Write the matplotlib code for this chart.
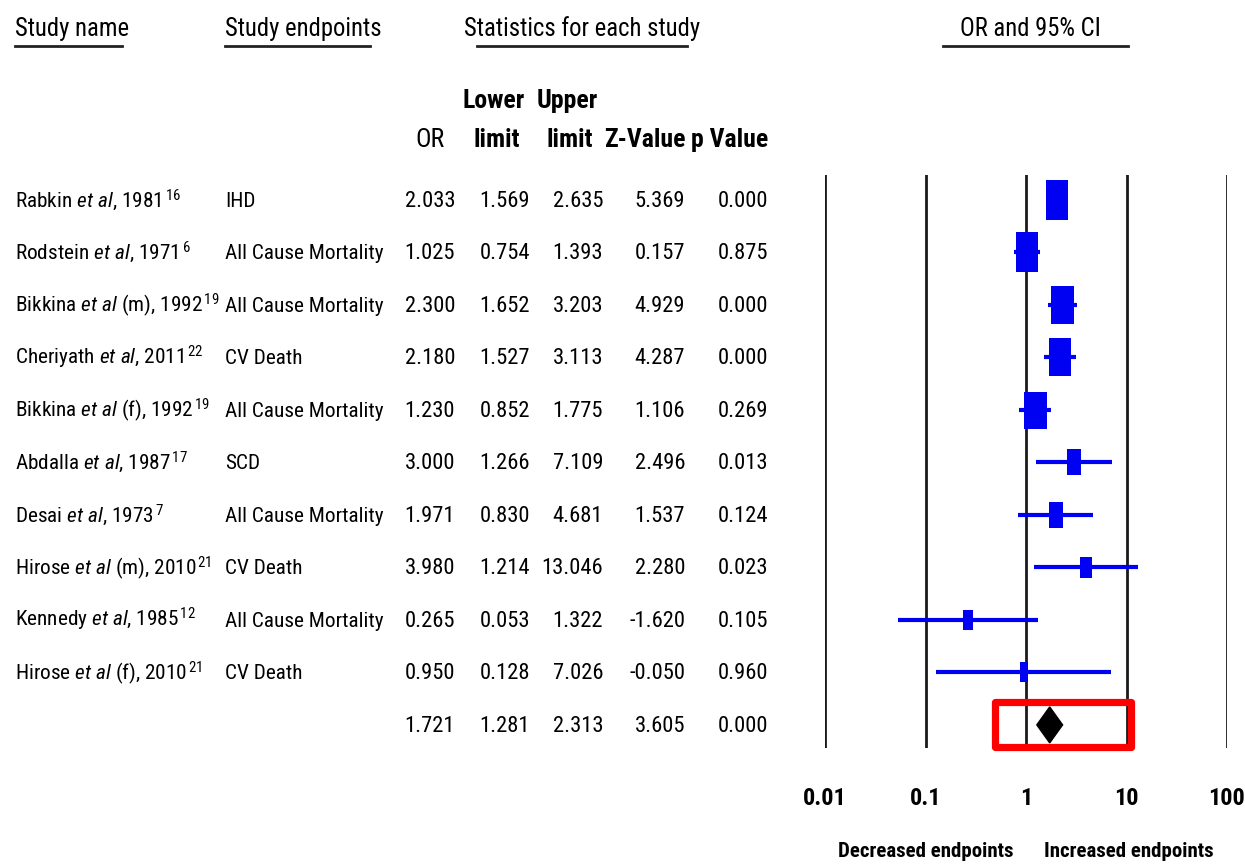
import matplotlib
matplotlib.use('Agg')
import matplotlib.pyplot as plt
from matplotlib import font_manager, transforms
from matplotlib.lines import Line2D
from matplotlib.patches import Polygon, Rectangle
from matplotlib.path import Path

# study rows, top to bottom
authors = ['Rabkin', 'Rodstein', 'Bikkina', 'Cheriyath', 'Bikkina',
           'Abdalla', 'Desai', 'Hirose', 'Kennedy', 'Hirose']
groups = ['', '', '(m)', '', '(f)', '', '', '(m)', '', '(f)']
years = [1981, 1971, 1992, 2011, 1992, 1987, 1973, 2010, 1985, 2010]
refs = [16, 6, 19, 22, 19, 17, 7, 21, 12, 21]
endpoints = ['IHD', 'All Cause Mortality', 'All Cause Mortality', 'CV Death',
             'All Cause Mortality', 'SCD', 'All Cause Mortality', 'CV Death',
             'All Cause Mortality', 'CV Death']
odds = [2.033, 1.025, 2.300, 2.180, 1.230, 3.000, 1.971, 3.980, 0.265, 0.950]
lower = [1.569, 0.754, 1.652, 1.527, 0.852, 1.266, 0.830, 1.214, 0.053, 0.128]
upper = [2.635, 1.393, 3.203, 3.113, 1.775, 7.109, 4.681, 13.046, 1.322, 7.026]
z_vals = [5.369, 0.157, 4.929, 4.287, 1.106, 2.496, 1.537, 2.280, -1.620, -0.050]
p_vals = [0.000, 0.875, 0.000, 0.000, 0.269, 0.013, 0.124, 0.023, 0.105, 0.960]

# pooled estimate
pooled_or = 1.721
pooled_lo = 1.281
pooled_hi = 2.313
pooled_z = 3.605
pooled_p = 0.000

ticks = [0.01, 0.1, 1, 10, 100]
tick_labels = ['0.01', '0.1', '1', '10', '100']

# box size in pixels (study weight)
box_w = [23, 22, 23, 22, 23, 15, 14, 12, 11, 9]
box_h = [40, 40, 38, 38, 37, 26, 27, 21, 20, 20]


def pick_font():
    """Prefer a narrow / condensed sans face, return (family, stretch)."""
    entries = font_manager.fontManager.ttflist
    names = {f.name for f in entries}
    for name in ['Liberation Sans Narrow', 'Arial Narrow', 'Roboto Condensed',
                 'Open Sans Condensed', 'Noto Sans Condensed',
                 'DejaVu Sans Condensed']:
        if name in names:
            return name, 'normal'
    for name in sorted(names):
        if 'Narrow' in name or 'Condensed' in name:
            return name, 'normal'
    for fam in ['Noto Sans', 'Roboto', 'Open Sans', 'DejaVu Sans']:
        for f in entries:
            if f.name == fam and 'condensed' in str(f.stretch):
                return fam, 'condensed'
    return 'Liberation Sans', 'normal'


font, stretch = pick_font()
plt.rcParams['font.family'] = [font, 'DejaVu Sans']
plt.rcParams['font.stretch'] = stretch
plt.rcParams['mathtext.fontset'] = 'custom'
plt.rcParams['mathtext.rm'] = font
plt.rcParams['mathtext.it'] = font + ':italic'
plt.rcParams['mathtext.bf'] = font + ':bold'

W, H = 1245, 864
fig = plt.figure(figsize=(W / 100, H / 100), dpi=100)
fig.patch.set_facecolor('white')
renderer = fig.canvas.get_renderer()


def fx(px):
    return px / W


def fy(py):
    return 1 - py / H


def fit_size(s, width_px, max_size, weight='normal'):
    t = fig.text(0, 0, s, fontsize=10, fontweight=weight)
    w = t.get_window_extent(renderer).width
    t.remove()
    return min(max_size, 10 * width_px / w)


# forest panel
ax = fig.add_axes([fx(825), fy(748), (1227 - 825) / W, (748 - 175) / H])
ax.set_xscale('log')
ax.set_xlim(0.01, 100)
ax.set_ylim(10.44, -0.476)
for s in ax.spines.values():
    s.set_visible(False)
ax.set_yticks([])
ax.set_xticks(ticks)
tick_fs = fit_size('0.01', 44, 21, 'bold')
ax.set_xticklabels(tick_labels, fontsize=tick_fs, fontweight='bold')
ax.minorticks_off()
ax.tick_params(axis='x', length=0, pad=28)

for t in ticks:
    ax.axvline(t, color='#1a1a1a', lw=2.0, zorder=1)

rows = list(range(len(odds)))
blue = '#0000f2'
ax.hlines(rows, lower, upper, color=blue, lw=3.0, zorder=2)
for i in rows:
    a = box_w[i] / box_h[i]
    rect = Path([(-a, -1), (a, -1), (a, 1), (-a, 1), (-a, -1)],
                [Path.MOVETO, Path.LINETO, Path.LINETO, Path.LINETO,
                 Path.CLOSEPOLY])
    ax.plot(odds[i], i, marker=rect, markersize=box_h[i] * 0.72,
            color=blue, markeredgewidth=0, zorder=3)

# pooled diamond
py = len(odds)
hh = 18 / 52.5
ax.add_patch(Polygon([(pooled_lo, py), (pooled_or, py - hh),
                      (pooled_hi, py), (pooled_or, py + hh)],
                     closed=True, facecolor='black', edgecolor='black',
                     zorder=3))

# highlight frame around the pooled result
ax.add_patch(Rectangle((0.497, py - 0.43), 11.2 - 0.497, 0.86, fill=False,
                       edgecolor='#ff0000', lw=5.2, joinstyle='round',
                       clip_on=False, zorder=4))

# table text, rows follow the forest panel's y scale
row_trans = transforms.blended_transform_factory(fig.transFigure, ax.transData)
row_trans = transforms.offset_copy(row_trans, fig=fig, y=-7, units='dots')
fs = fit_size('All Cause Mortality', 158, 21)
num_fs = fit_size('2.033', 50, 21)
num_cols = [455, 530, 603, 685, 768]

for i in rows:
    name = (f"{authors[i]} $\\it{{et\\ al}}$"
            + (f" {groups[i]}" if groups[i] else '')
            + f", {years[i]}$^{{\\,{refs[i]}}}$")
    fig.text(fx(15), i, name, transform=row_trans, fontsize=fs,
             va='baseline', ha='left')
    fig.text(fx(225), i, endpoints[i], transform=row_trans, fontsize=fs,
             va='baseline', ha='left')
    vals = [odds[i], lower[i], upper[i], z_vals[i], p_vals[i]]
    for x, v in zip(num_cols, vals):
        fig.text(fx(x), i, f"{v:.3f}", transform=row_trans, fontsize=num_fs,
                 va='baseline', ha='right')

for x, v in zip(num_cols, [pooled_or, pooled_lo, pooled_hi, pooled_z, pooled_p]):
    fig.text(fx(x), py, f"{v:.3f}", transform=row_trans, fontsize=num_fs,
             va='baseline', ha='right')

# column headers
head_fs = fit_size('OR and 95% CI', 140, 20)
head = [('Study name', 15, 'left', 15, 122),
        ('Study endpoints', 225, 'left', 225, 370),
        ('Statistics for each study', 582, 'center', 477, 687),
        ('OR and 95% CI', 1030, 'center', 943, 1128)]
for txt, x, ha, u0, u1 in head:
    fig.text(fx(x), fy(36), txt, fontsize=head_fs, ha=ha, va='baseline')
    fig.add_artist(Line2D([fx(u0), fx(u1)], [fy(46), fy(46)],
                          color='#222222', lw=2.0))

hfs = fit_size('Lower', 62, 21, 'bold')
fig.text(fx(430), fy(147), 'OR', fontsize=hfs, ha='center', va='baseline')
fig.text(fx(494), fy(108), 'Lower', fontsize=hfs, ha='center', va='baseline',
         fontweight='bold')
fig.text(fx(497), fy(147), 'limit', fontsize=hfs, ha='center', va='baseline',
         fontweight='bold')
fig.text(fx(567), fy(108), 'Upper', fontsize=hfs, ha='center', va='baseline',
         fontweight='bold')
fig.text(fx(570), fy(147), 'limit', fontsize=hfs, ha='center', va='baseline',
         fontweight='bold')
fig.text(fx(686), fy(147), 'Z-Value', fontsize=hfs, ha='right', va='baseline',
         fontweight='bold')
fig.text(fx(768), fy(147), 'p Value', fontsize=hfs, ha='right', va='baseline',
         fontweight='bold')

lab_fs = fit_size('Decreased endpoints', 176, 19, 'bold')
fig.text(fx(926), fy(857), 'Decreased endpoints', fontsize=lab_fs,
         ha='center', va='baseline', fontweight='bold')
fig.text(fx(1129), fy(857), 'Increased endpoints', fontsize=lab_fs,
         ha='center', va='baseline', fontweight='bold')

fig.savefig('out.png', dpi=100)
